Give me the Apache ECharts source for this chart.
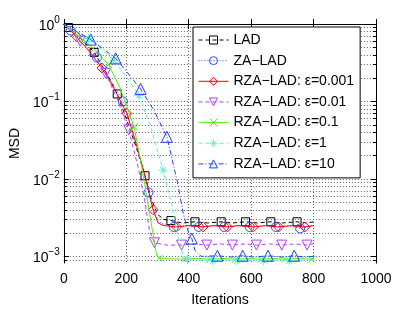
<!DOCTYPE html>
<html><head><meta charset="utf-8">
<script src="https://cdn.jsdelivr.net/npm/echarts@6/dist/echarts.min.js"></script>
<style>html,body{margin:0;padding:0;background:#fff}#c{width:415px;height:312px}</style>
</head><body><div id="c"></div>
<script>
// ---- data (iterations, MSD) ----
var xTicks = [0, 200, 400, 600, 800, 1000];
var yDecades = [-3, -2, -1, 0];

var seriesNames = ['LAD', 'ZA\u2212LAD', 'RZA\u2212LAD: \u03b5=0.001', 'RZA\u2212LAD: \u03b5=0.01',
  'RZA\u2212LAD: \u03b5=0.1', 'RZA\u2212LAD: \u03b5=1', 'RZA\u2212LAD: \u03b5=10'];

var ladIter = [0,15,50,97,140,171,200,230,260,280,300,320,343,380,420,460,504,540,582,620,663,700,747,780,800];
var ladMSD  = [1.0,0.9,0.68,0.43,0.22,0.125,0.06,0.027,0.011,0.0055,0.0035,0.003,0.0029,0.0027,0.0028,0.0027,0.0028,0.0027,0.0028,0.0027,0.0028,0.0027,0.0028,0.0027,0.0028];
var ladMarks = [15,97,171,260,343,420,504,582,663,747];

var zaIter = [0,22,60,106,150,189,220,250,271,290,310,352,390,432,470,513,550,595,640,679,720,757,800];
var zaMSD  = [1.0,0.82,0.6,0.37,0.19,0.1,0.04,0.015,0.0067,0.0035,0.0027,0.0024,0.0025,0.0024,0.0025,0.0024,0.0025,0.0024,0.0025,0.0024,0.0025,0.0023,0.0025];
var zaMarks = [22,106,189,271,352,432,513,595,679,757];

var r001Iter = [0,40,80,122,160,202,230,260,286,302,320,361,400,446,480,524,560,607,650,688,730,772,800];
var r001MSD  = [1.0,0.69,0.45,0.27,0.15,0.07,0.03,0.011,0.004,0.0027,0.0025,0.0024,0.0025,0.0024,0.0025,0.0024,0.0025,0.0024,0.0025,0.0024,0.0025,0.0024,0.0025];
var r001Marks = [40,122,202,286,361,446,524,607,688,772];

var r01Iter = [0,52,90,134,170,208,240,260,275,290,330,377,420,458,500,540,580,617,660,698,740,779,800];
var r01MSD  = [1.0,0.6,0.42,0.23,0.11,0.043,0.013,0.005,0.0021,0.0015,0.0014,0.0014,0.00145,0.0014,0.00145,0.0014,0.00145,0.0014,0.00145,0.0014,0.00145,0.0014,0.00145];
var r01Marks = [52,134,208,290,377,458,540,617,698,779];

var r1Iter = [0,62,100,143,180,225,250,275,296,306,340,387,430,467,510,551,590,632,670,710,750,794,800];
var r1MSD  = [1.0,0.62,0.46,0.3,0.15,0.047,0.014,0.0035,0.0011,0.00095,0.00093,0.00092,0.00094,0.00092,0.00094,0.00092,0.00094,0.00092,0.00094,0.00092,0.00094,0.00092,0.00093];
var r1Marks = [62,143,225,306,387,467,551,632,710,794];

var r10Iter = [0,80,160,200,240,280,318,348,368,383,396,440,477,520,555,600,639,680,722,760,800];
var r10MSD  = [1.0,0.65,0.34,0.21,0.12,0.045,0.013,0.0042,0.0016,0.001,0.00092,0.00089,0.00088,0.0009,0.00088,0.0009,0.00088,0.0009,0.00088,0.0009,0.00089];
var r10Marks = [80,160,240,318,396,477,555,639,722];

var r100Iter = [0,86,166,246,290,330,364,383,400,410,420,440,492,530,573,610,654,700,738,770,800];
var r100MSD  = [1.0,0.63,0.36,0.145,0.075,0.035,0.009,0.0035,0.002,0.0017,0.0012,0.001,0.00102,0.00098,0.00102,0.00098,0.00102,0.00098,0.00102,0.00098,0.001];
var r100Marks = [86,166,246,330,410,492,573,654,738];

// ---- styles ----
var FONT = 'Liberation Sans';
var YMIN = -3.085, YMAX = 0;
var styles = [
  {c:'#000000', dash:[4,3], sym:'rect', size:8},
  {c:'#2a4bff', dash:[1,2], sym:'circle', size:9},
  {c:'#ff0000', dash:'solid', sym:'diamond', size:10},
  {c:'#b040ff', dash:[4,3], sym:'triangle', size:10, rot:180},
  {c:'#55ee11', dash:'solid', sym:'path://M0,0L10,10M10,0L0,10', size:7},
  {c:'#55f5d8', dash:[4,3], sym:'path://M5,0L5,10M0,5L10,5M1.6,1.6L8.4,8.4M8.4,1.6L1.6,8.4', size:9},
  {c:'#2040ff', dash:[5,2,1,2], sym:'triangle', size:11}
];
var iters = [ladIter, zaIter, r001Iter, r01Iter, r1Iter, r10Iter, r100Iter];
var msds  = [ladMSD, zaMSD, r001MSD, r01MSD, r1MSD, r10MSD, r100MSD];
var marks = [ladMarks, zaMarks, r001Marks, r01Marks, r1Marks, r10Marks, r100Marks];

var series = seriesNames.map(function(name, i){
  var st = styles[i];
  var data = iters[i].map(function(it, k){
    var d = {value:[it, Math.log10(msds[i][k])]};
    if (marks[i].indexOf(it) < 0) d.symbol = 'none';
    return d;
  });
  return {
    name: name, type:'line', data: data, smooth: false,
    symbol: st.sym, symbolSize: st.size, symbolRotate: st.rot || 0, showAllSymbol: true,
    symbolKeepAspect: true,
    itemStyle: {color:'rgba(255,255,255,0)', borderColor: st.c, borderWidth: 1},
    lineStyle: {color: st.c, width: 1, type: st.dash},
    emphasis: {disabled: true}, animation: false, z: 3 + i
  };
});

// minor tick positions (log10 of k*10^d)
var minor = [];
[-4,-3,-2,-1].forEach(function(d){ for (var k=2;k<=9;k++){ var v = Math.log10(k)+d; if (v>=YMIN && v<=YMAX) minor.push(v);} });

var gridLine = {show:true, lineStyle:{color:'#666', type:[1,2], width:1}};
function yAx(pos, major, labels){
  return {
    type:'value', min:YMIN, max:YMAX, position:pos,
    axisLine:{show: major, lineStyle:{color:'#000', width:1}},
    axisTick:{show:true, inside:true, length: major?5:3, customValues: major ? yDecades : minor, lineStyle:{color:'#000'}},
    axisLabel:{show: labels, customValues: yDecades, margin:4, fontFamily:FONT, color:'#000',
      formatter:function(v){ var n = Math.round(v); return '{b|10}{s|' + (n<0 ? '\u2212'+(-n) : n) + '}'; },
      rich:{b:{fontSize:14, fontFamily:FONT, color:'#000', lineHeight:18, verticalAlign:'bottom'},
            s:{fontSize:10, fontFamily:FONT, color:'#000', lineHeight:18, verticalAlign:'top'}}},
    splitLine: (pos==='left') ? gridLine : {show:false},
    name: labels ? 'MSD' : '', nameLocation:'middle', nameGap: 38,
    nameTextStyle:{fontFamily:FONT, fontSize:14, color:'#000'}
  };
}

var option = {
  backgroundColor:'#fff',
  animation:false,
  grid:{left:55, top:24, width:321, height:249.5, containLabel:false},
  legend:{
    orient:'vertical', left:193, top:27,
    backgroundColor:'#fff', borderColor:'#000', borderWidth:1,
    padding:[5,6,6,5], itemWidth:30, itemHeight:10, itemGap:4.65,
    itemStyle:{borderWidth:1},
    lineStyle:{width:1},
    textStyle:{fontFamily:FONT, fontSize:14, color:'#000', lineHeight:16, height:16},
    data: seriesNames, z: 20, selectedMode:false
  },
  xAxis:[
    {type:'value', min:0, max:1000, interval:200, position:'bottom',
     axisLine:{show:true, lineStyle:{color:'#000'}},
     axisTick:{show:true, inside:true, length:5, lineStyle:{color:'#000'}},
     axisLabel:{margin:9, fontFamily:FONT, fontSize:14, color:'#000', formatter:function(v){ return String(v); }},
     splitLine: gridLine,
     name:'Iterations', nameLocation:'middle', nameGap:30,
     nameTextStyle:{fontFamily:FONT, fontSize:14, color:'#000'}},
    {type:'value', min:0, max:1000, interval:200, position:'top',
     axisLine:{show:true, lineStyle:{color:'#000'}},
     axisTick:{show:true, inside:true, length:5, lineStyle:{color:'#000'}},
     axisLabel:{show:false}, splitLine:{show:false}}
  ],
  yAxis:[ yAx('left', true, true), yAx('left', false, false), yAx('right', true, false), yAx('right', false, false) ],
  series: series
};
echarts.init(document.getElementById('c'), null, {renderer:'canvas'}).setOption(option);
</script></body></html>
